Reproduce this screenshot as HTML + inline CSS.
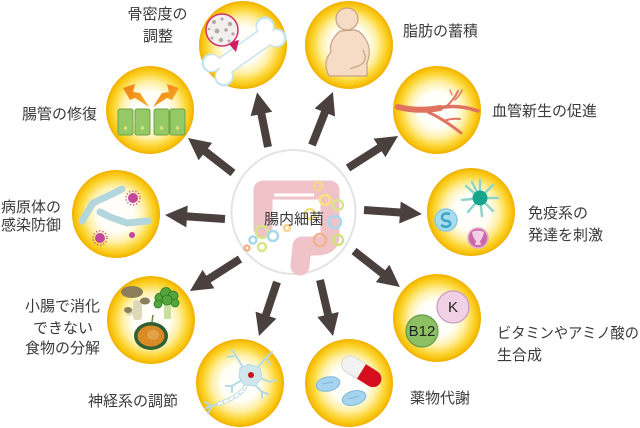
<!DOCTYPE html>
<html><head><meta charset="utf-8">
<style>
html,body{margin:0;padding:0;background:#fff;}
svg{display:block;}
text{font-family:"Liberation Sans","Noto Sans CJK JP",sans-serif;fill:#3a3a3a;font-size:15px;}
</style></head>
<body>
<svg width="640" height="428" viewBox="0 0 640 428" xmlns="http://www.w3.org/2000/svg">
<defs>
<radialGradient id="yg" cx="50%" cy="50%" r="50%">
<stop offset="0%" stop-color="#ffffff"/>
<stop offset="42%" stop-color="#fffef6"/>
<stop offset="64%" stop-color="#fff0a6"/>
<stop offset="81%" stop-color="#fcd83c"/>
<stop offset="93%" stop-color="#f8c30c"/>
<stop offset="100%" stop-color="#efae00"/>
</radialGradient>
<linearGradient id="bolt" x1="0" y1="0" x2="1" y2="1">
<stop offset="0%" stop-color="#f07a14"/>
<stop offset="100%" stop-color="#f7b323"/>
</linearGradient>
<marker id="ah" markerUnits="userSpaceOnUse" markerWidth="24" markerHeight="24" refX="2" refY="11" orient="auto" overflow="visible">
<path d="M0,0 L22,11 L0,22 z" fill="#4a403e"/>
</marker>
</defs>

<!-- central circle -->
<circle cx="293.5" cy="212" r="62" fill="#fff" stroke="#e3e3e3" stroke-width="2"/>
<path d="M263,228 L263,190 L330,190 L330,236 Q330,246 316,246 L302,246 L300,266" fill="none" stroke="#efc3c8" stroke-width="19" stroke-linejoin="round" stroke-linecap="round"/>
<path d="M274,195 L314,195" stroke="#fff" stroke-width="3"/>
<g fill="none" stroke-width="2.5">
<circle cx="318" cy="186" r="4" stroke="#f6d48a"/>
<circle cx="325" cy="200" r="5" stroke="#f9e27c"/>
<circle cx="338" cy="205" r="5" stroke="#d9e58a"/>
<circle cx="335" cy="222" r="6" stroke="#a7d8ee"/>
<circle cx="320" cy="240" r="6" stroke="#f1b38e"/>
<circle cx="338" cy="240" r="5" stroke="#d3e27a"/>
<circle cx="310" cy="214" r="5" stroke="#f5dd7e"/>
<circle cx="262" cy="232" r="6" stroke="#d9e58a"/>
<circle cx="273" cy="236" r="5" stroke="#a7d8ee"/>
<circle cx="253" cy="240" r="3.5" stroke="#a7d8ee"/>
<circle cx="262" cy="247" r="4" stroke="#d9e58a"/>
<circle cx="247" cy="248" r="2.5" stroke="#f1b38e"/>
<circle cx="287" cy="228" r="3" stroke="#f6d48a"/>
</g>
<text x="294" y="224" text-anchor="middle" font-size="14.5">腸内細菌</text>

<!-- arrows -->
<g stroke="#4a403e" stroke-width="8" marker-end="url(#ah)">
<line x1="268" y1="147" x2="261" y2="112"/>
<line x1="312" y1="145" x2="325.6" y2="110.6"/>
<line x1="348" y1="168" x2="381.2" y2="146.8"/>
<line x1="364" y1="210" x2="402" y2="212.6"/>
<line x1="354" y1="251" x2="384.2" y2="274.7"/>
<line x1="320" y1="280" x2="328.5" y2="316.5"/>
<line x1="277" y1="282" x2="265.3" y2="317"/>
<line x1="240" y1="259" x2="206.8" y2="280.2"/>
<line x1="225" y1="219" x2="185" y2="216.3"/>
<line x1="233" y1="173" x2="203.8" y2="150.3"/>
</g>

<!-- yellow circles -->
<g fill="url(#yg)">
<circle cx="243" cy="45" r="44"/>
<circle cx="349" cy="45" r="44"/>
<circle cx="437" cy="110" r="44"/>
<circle cx="471" cy="212" r="44"/>
<circle cx="437" cy="318" r="44"/>
<circle cx="349" cy="383" r="44"/>
<circle cx="240" cy="383" r="44"/>
<circle cx="151" cy="320" r="44"/>
<circle cx="116" cy="214" r="44"/>
<circle cx="150" cy="110" r="44"/>
</g>

<!-- bone -->
<g fill="#c5e3f1">
<line x1="220" y1="69" x2="271" y2="33" stroke="#c5e3f1" stroke-width="20"/>
<circle cx="265" cy="26" r="9.5"/><circle cx="277" cy="38" r="9.5"/>
<circle cx="211" cy="63" r="9.5"/><circle cx="224" cy="77" r="9.5"/>
</g>
<g fill="#fff">
<line x1="220" y1="69" x2="271" y2="33" stroke="#fff" stroke-width="17"/>
<circle cx="265" cy="27" r="8"/><circle cx="276" cy="38" r="8"/>
<circle cx="212" cy="63" r="8"/><circle cx="224" cy="76" r="8"/>
</g>
<polygon points="228,43 239,40 236,52" fill="#d01f5f"/>
<circle cx="222" cy="30" r="16" fill="#f3efee" stroke="#d22f6b" stroke-width="1.5"/>
<g fill="#b3aaa5">
<circle cx="214" cy="22" r="2"/><circle cx="222" cy="19" r="1.5"/><circle cx="230" cy="24" r="2.2"/>
<circle cx="217" cy="31" r="2.4"/><circle cx="226" cy="30" r="1.8"/><circle cx="233" cy="34" r="1.6"/>
<circle cx="212" cy="38" r="1.5"/><circle cx="221" cy="40" r="2.2"/><circle cx="229" cy="41" r="1.4"/>
<circle cx="209" cy="29" r="1.3"/>
</g>

<!-- fat person -->
<circle cx="347" cy="19" r="11" fill="#f6dcc4" stroke="#c8a182" stroke-width="1.2"/>
<path d="M340,31 Q328,42 331,52 Q322,62 329,76 L367,76 L367,63 Q372,50 366,40 Q362,32 355,30 Z" fill="#f6dcc4" stroke="#c8a182" stroke-width="1.2"/>
<path d="M363,50 Q369,62 358,66 L350,69" fill="none" stroke="#c8a182" stroke-width="1.2"/>

<!-- vessel -->
<g fill="none" stroke="#e0735f" stroke-linecap="round">
<path d="M398,107 Q418,112 440,108" stroke-width="6"/>
<path d="M438,108 Q458,104 478,111" stroke-width="3.5"/>
<path d="M447,106 Q455,98 458,91" stroke-width="2"/>
<path d="M455,100 Q460,95 462,90" stroke-width="1.5"/>
<path d="M452,95 L450,90" stroke-width="1.2"/>
<path d="M428,112 Q445,120 461,133" stroke-width="3"/>
<path d="M444,121 Q452,118 460,119" stroke-width="2"/>
</g>

<!-- immune -->
<g stroke="#8fd4c8" stroke-width="2.5" stroke-linecap="round">
<line x1="480" y1="198" x2="480" y2="180"/>
<line x1="480" y1="198" x2="493" y2="185"/>
<line x1="480" y1="198" x2="498" y2="198"/>
<line x1="480" y1="198" x2="493" y2="211"/>
<line x1="480" y1="198" x2="482" y2="216"/>
<line x1="480" y1="198" x2="468" y2="212"/>
<line x1="480" y1="198" x2="462" y2="200"/>
<line x1="480" y1="198" x2="466" y2="186"/>
<line x1="480" y1="198" x2="472" y2="182"/>
</g>
<circle cx="480" cy="198" r="7.5" fill="#14a58c"/>
<circle cx="446" cy="220" r="11" fill="#a9dcef" stroke="#86cbe5" stroke-width="1.5"/>
<path d="M450,214 Q442,212 442,218 Q443,221 448,221 Q452,223 449,226 Q445,228 441,225" fill="none" stroke="#3aa5c6" stroke-width="2.5"/>
<circle cx="478" cy="238" r="10" fill="#cd68a8" stroke="#e2afd0" stroke-width="1.5"/>
<path d="M472,232 Q478,229 484,232 Q483,238 480,241 L481,245 L475,245 L476,241 Q473,238 472,232 Z" fill="#f2cfe4"/>

<!-- vitamins -->
<circle cx="453" cy="307" r="16" fill="#f2d0e6" stroke="#c59ac0" stroke-width="1.2"/>
<text x="453" y="312" text-anchor="middle" font-size="13" style="fill:#222">K</text>
<circle cx="422" cy="331" r="16" fill="#8cc063" stroke="#5e9a45" stroke-width="1.2"/>
<text x="422" y="336" text-anchor="middle" font-size="13" style="fill:#222">B12</text>

<!-- drugs -->
<g transform="rotate(32 361.5 371.5)">
<path d="M361.5,363 L348,363 A8.5,8.5 0 0 0 348,380 L361.5,380 Z" fill="#f2f2f2" stroke="#d8d8d8" stroke-width="1"/>
<path d="M361.5,363 L375,363 A8.5,8.5 0 0 1 375,380 L361.5,380 Z" fill="#d50f1e"/>
</g>
<ellipse cx="328" cy="384" rx="12" ry="7" fill="#a6d4ee" stroke="#7ab8dc" stroke-width="1" transform="rotate(-12 328 384)"/>
<line x1="322" y1="384" x2="333" y2="382" stroke="#7ab8dc" stroke-width="1"/>
<ellipse cx="354" cy="398" rx="12" ry="7" fill="#a6d4ee" stroke="#7ab8dc" stroke-width="1" transform="rotate(-15 354 398)"/>
<line x1="348" y1="399" x2="359" y2="396" stroke="#7ab8dc" stroke-width="1"/>

<!-- neuron -->
<g fill="none" stroke="#b7d9e3" stroke-width="2" stroke-linecap="round">
<path d="M244,369 L236,356 L232,350 M236,356 L228,357"/>
<path d="M257,368 L266,358 L272,352 M266,358 L270,364"/>
<path d="M260,378 L270,382 L276,380"/>
<path d="M254,384 L262,392 L262,398 M262,392 L268,394"/>
<path d="M242,380 L232,386 L226,386 M232,386 L232,392"/>
<path d="M218,404 L206,408 M212,406 L205,402 M212,406 L208,413"/>
</g>
<path d="M240,368 L249,364 L260,368 L262,378 L255,386 L244,385 L239,377 Z" fill="#cfe6ec" stroke="#b7d9e3"/>
<circle cx="251" cy="375" r="3" fill="#c8151f"/>
<path d="M246,386 Q238,398 218,404" fill="none" stroke="#b7d9e3" stroke-width="4.5" stroke-dasharray="5 1"/>
<path d="M246,386 Q238,398 218,404" fill="none" stroke="#fff" stroke-width="2.5" stroke-dasharray="4 2"/>

<!-- food -->
<rect x="133" y="300" width="9" height="20" rx="3" fill="#dcd8b8"/>
<rect x="126" y="309" width="8" height="6" rx="2" fill="#dcd8b8" transform="rotate(-20 130 312)"/>
<ellipse cx="132" cy="292" rx="11" ry="6" fill="#8a7f5a"/>
<ellipse cx="145" cy="301" rx="5" ry="3.5" fill="#8a7f5a"/>
<ellipse cx="128" cy="310" rx="4" ry="3" fill="#8a7f5a"/>
<rect x="164" y="303" width="7" height="16" fill="#c9e0a0"/>
<g fill="#53a43a" stroke="#2f7a2a" stroke-width="0.8">
<circle cx="160" cy="298" r="5"/><circle cx="166" cy="293" r="5.5"/><circle cx="173" cy="296" r="5"/>
<circle cx="175" cy="303" r="4"/><circle cx="158" cy="304" r="4"/><circle cx="167" cy="300" r="5"/>
</g>
<ellipse cx="151" cy="336" rx="17" ry="14" fill="#2f5f35"/>
<ellipse cx="151" cy="336" rx="13.5" ry="10.5" fill="#d98a25"/>
<ellipse cx="153" cy="335" rx="6" ry="5" fill="#e3a24a"/>
<line x1="152" y1="322" x2="153" y2="315" stroke="#6a8a3a" stroke-width="1.5"/>

<!-- pathogen -->
<g fill="none" stroke="#b3d5dc" stroke-width="7" stroke-linecap="round" stroke-linejoin="round">
<path d="M82,221 L93,203 L110,195 L122,189" stroke-dasharray="8 1.2"/>
<path d="M100,212 L110,217 L127,223 L148,221" stroke-dasharray="8 1.2"/>
</g>
<g fill="#c2489e">
<circle cx="133" cy="198" r="5"/><circle cx="100" cy="238" r="5"/><circle cx="132" cy="235" r="3"/>
</g>
<g fill="none" stroke="#c2489e" stroke-width="1.5" stroke-dasharray="1.2 2">
<circle cx="133" cy="198" r="7"/><circle cx="100" cy="238" r="7"/>
</g>

<!-- repair -->
<g fill="#95c965" stroke="#6ea344" stroke-width="1">
<rect x="118" y="109" width="15" height="26" rx="2"/>
<rect x="135" y="109" width="15" height="26" rx="2"/>
<rect x="154" y="109" width="15" height="26" rx="2"/>
<rect x="170" y="109" width="15" height="26" rx="2"/>
</g>
<g fill="#d8e47a">
<circle cx="125.5" cy="128" r="1.8"/><circle cx="142.5" cy="128" r="1.8"/>
<circle cx="161.5" cy="128" r="1.8"/><circle cx="177.5" cy="128" r="1.8"/>
</g>
<polygon points="123,88 135,84 133,92 140,93 149,107 135,98 130,100" fill="url(#bolt)"/>
<polygon points="179,88 167,84 169,92 162,93 153,107 167,98 172,100" fill="url(#bolt)"/>

<!-- labels -->
<text x="157.5" y="19" text-anchor="middle">骨密度の</text>
<text x="158" y="41" text-anchor="middle">調整</text>
<text x="403" y="36">脂肪の蓄積</text>
<text x="492" y="116">血管新生の促進</text>
<text x="22" y="119">腸管の修復</text>
<text x="1" y="212">病原体の</text>
<text x="1" y="230">感染防御</text>
<text x="528" y="218">免疫系の</text>
<text x="528" y="240">発達を刺激</text>
<text x="497" y="338" textLength="142" lengthAdjust="spacingAndGlyphs">ビタミンやアミノ酸の</text>
<text x="497" y="360">生合成</text>
<text x="410" y="403">薬物代謝</text>
<text x="88" y="406">神経系の調節</text>
<text x="62.5" y="311" text-anchor="middle">小腸で消化</text>
<text x="63" y="333" text-anchor="middle">できない</text>
<text x="62.5" y="353" text-anchor="middle">食物の分解</text>
</svg>
</body></html>
